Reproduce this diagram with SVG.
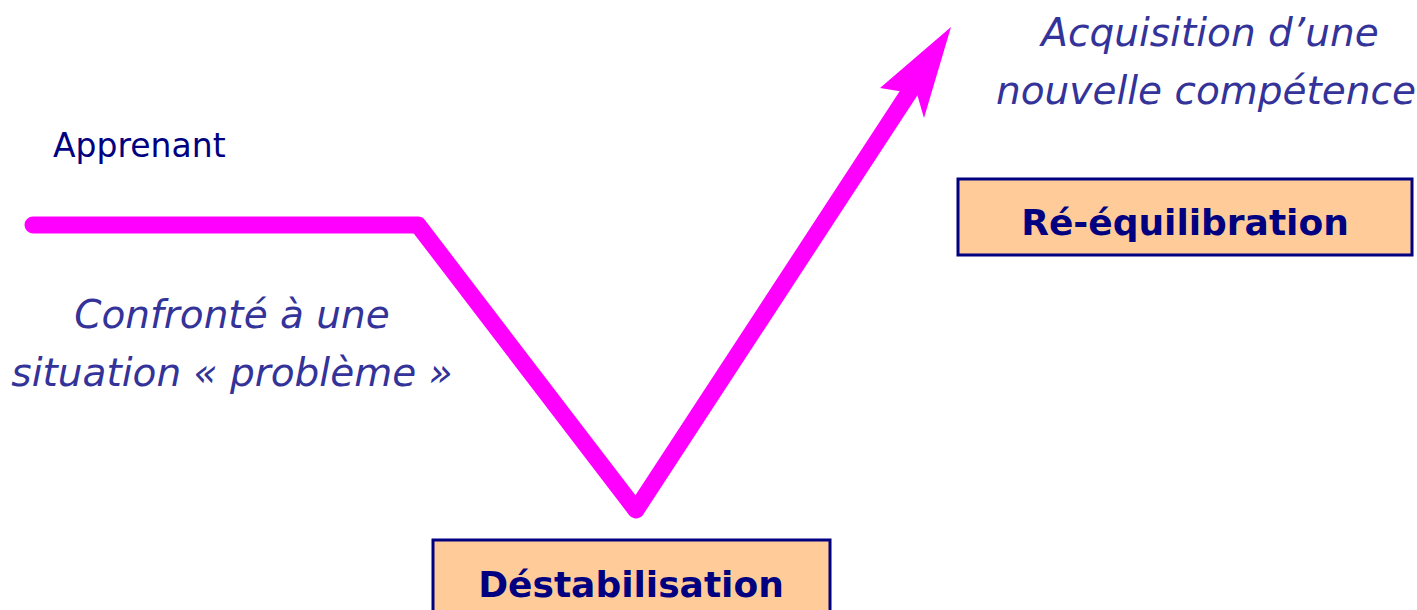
<svg xmlns="http://www.w3.org/2000/svg" width="1417" height="610" viewBox="0 0 1417 610">
<style>
.lbl{font-family:"DejaVu Sans","Liberation Sans",sans-serif;fill:#000080;}
.it{font-family:"DejaVu Sans","Liberation Sans",sans-serif;font-style:italic;fill:#333399;font-size:39px;}
.box{fill:#FFCC99;stroke:#000080;stroke-width:3;}
.bt{font-family:"DejaVu Sans","Liberation Sans",sans-serif;font-weight:bold;fill:#000080;font-size:36px;text-anchor:middle;}
</style>
<rect width="1417" height="610" fill="#fff"/>
<g id="connectors">
<polyline points="33,225 418,225 636,510 912,88" fill="none" stroke="#FF00FF" stroke-width="17" stroke-linecap="round" stroke-linejoin="round"/>
<polygon points="951,27 924,118 917,94 880,88" fill="#FF00FF"/>
</g>
<g id="apprenant"><text class="lbl" x="53" y="157" font-size="33">Apprenant</text></g>
<g id="confronte">
<text class="it" x="232" y="328" text-anchor="middle">Confronté à une</text>
<text class="it" x="232" y="386" text-anchor="middle">situation « problème »</text>
</g>
<g id="acquisition">
<text class="it" x="1210" y="46" text-anchor="middle" font-size="35">Acquisition d’une</text>
<text class="it" x="1206" y="104" text-anchor="middle" font-size="35">nouvelle compétence</text>
</g>
<g id="reequilibration">
<rect class="box" x="958" y="179" width="454" height="76"/>
<text class="bt" x="1185" y="235">Ré-équilibration</text>
</g>
<g id="destabilisation">
<rect class="box" x="433" y="540" width="397" height="80"/>
<text class="bt" x="631" y="597">Déstabilisation</text>
</g>
</svg>
